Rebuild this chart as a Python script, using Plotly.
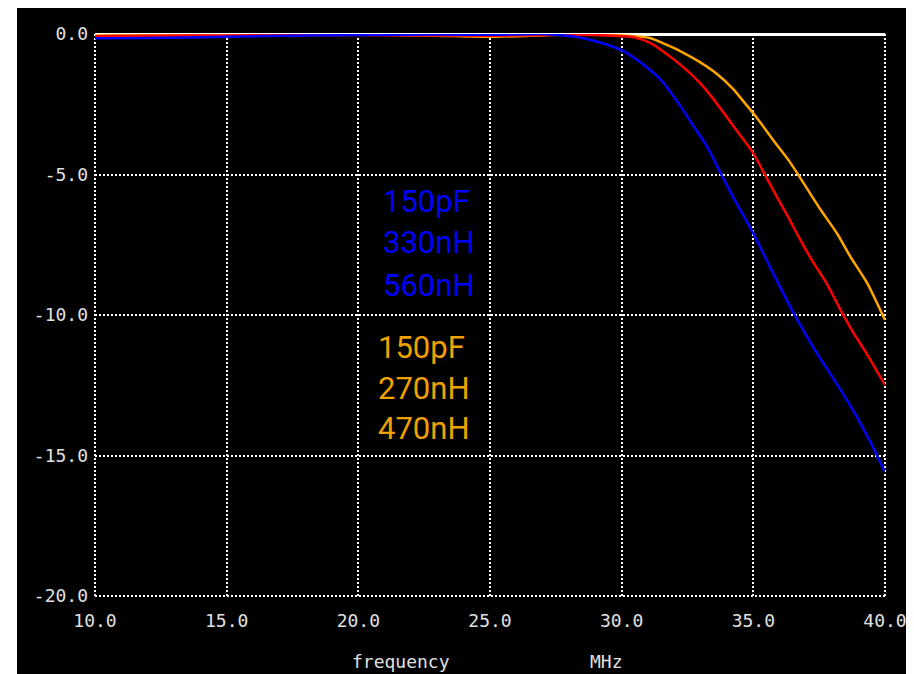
import plotly.graph_objects as go

# ---- data ----
blue_freq = [10.0, 12.0, 15.0, 18.0, 20.0, 23.0, 25.0, 27.0, 28.3, 29.18, 30.05, 30.81, 31.57, 32.22,
             32.71, 33.24, 33.73, 34.23, 34.99, 35.75, 36.51, 37.27, 38.03, 38.78, 39.54, 40.0]
blue_db = [-0.15, -0.14, -0.1, -0.05, -0.04, -0.02, -0.03, 0.0, -0.11, -0.30, -0.60, -1.08, -1.72, -2.55,
           -3.25, -4.00, -4.90, -5.80, -7.08, -8.51, -9.90, -11.14, -12.25, -13.38, -14.70, -15.59]

red_freq = [10.0, 12.0, 15.0, 20.0, 23.0, 25.0, 28.0, 29.5, 30.43, 31.08, 31.72, 32.33, 32.97, 33.47,
            34.38, 34.99, 35.37, 35.75, 36.28, 36.77, 37.27, 37.80, 38.29, 38.78, 39.32, 40.0]
red_db = [-0.08, -0.06, -0.05, -0.04, -0.05, -0.06, -0.03, -0.05, -0.11, -0.32, -0.72, -1.17, -1.74, -2.30,
          -3.45, -4.23, -4.88, -5.55, -6.44, -7.30, -8.12, -8.90, -9.78, -10.60, -11.40, -12.49]

orange_freq = [10.0, 12.0, 15.0, 20.0, 23.0, 25.0, 28.0, 30.0, 31.08, 31.72, 32.33, 32.97, 33.62, 34.23,
               34.61, 35.14, 35.75, 36.39, 36.89, 37.53, 38.18, 38.67, 39.32, 40.0]
orange_db = [-0.05, -0.03, -0.02, -0.02, -0.06, -0.1, -0.02, -0.05, -0.14, -0.39, -0.66, -1.00, -1.42, -1.95,
             -2.38, -2.99, -3.77, -4.56, -5.28, -6.22, -7.10, -7.90, -8.86, -10.18]

x_ticks = [10, 15, 20, 25, 30, 35, 40]
x_tick_labels = ["10.0", "15.0", "20.0", "25.0", "30.0", "35.0", "40.0"]
y_ticks = [0, -5, -10, -15, -20]
y_tick_labels = ["0.0", "-5.0", "-10.0", "-15.0", "-20.0"]

blue_labels = ["150pF", "330nH", "560nH"]
orange_labels = ["150pF", "270nH", "470nH"]
x_title = "frequency"
x_unit = "MHz"

BLUE = "#0000FF"
RED = "#FF0000"
ORANGE = "#FFA500"
ORANGE_TXT = "#F0A000"
TICK_COL = "#E0E0E0"
MONO = "DejaVu Sans Mono"

fig = go.Figure()
for xs, ys, col in [(orange_freq, orange_db, ORANGE), (red_freq, red_db, RED), (blue_freq, blue_db, BLUE)]:
    fig.add_trace(go.Scatter(x=xs, y=ys, mode="lines", line=dict(color=col, width=2.5, shape="spline", smoothing=0.6),
                             showlegend=False, hoverinfo="skip"))

# the page body adds an 8px offset, so the figure is 8px smaller and shifted
OFF = 8
W, H = 914 - OFF, 674 - OFF
L, T = 95 - OFF, 34 - OFF
pw, ph = 790, 562
R, B = W - L - pw, H - T - ph

def px2paper_x(px):  # screen pixel -> paper coordinate
    return (px - OFF - L) / pw

def px2paper_y(py):
    return (T + ph - (py - OFF)) / ph

grid_dash = "2px,2px"
frame = dict(color="white", width=2, dash=grid_dash)
shapes = [
    dict(type="rect", xref="paper", yref="paper",
         x0=px2paper_x(17), x1=px2paper_x(930), y0=px2paper_y(690), y1=px2paper_y(0),
         fillcolor="black", line=dict(width=0), layer="below"),
    dict(type="line", xref="paper", yref="paper", x0=0, x1=0, y0=0, y1=1, line=frame, layer="below"),
    dict(type="line", xref="paper", yref="paper", x0=1, x1=1, y0=0, y1=1, line=frame, layer="below"),
    dict(type="line", xref="paper", yref="paper", x0=0, x1=1, y0=0, y1=0, line=frame, layer="below"),
]

annotations = []
blue_y = [201, 243, 285]
orange_y = [347, 388, 428]
for txt, yy in zip(blue_labels, blue_y):
    annotations.append(dict(text=txt, xref="paper", yref="paper", x=px2paper_x(381), y=px2paper_y(yy),
                            xanchor="left", yanchor="middle", showarrow=False,
                            font=dict(family="Roboto", size=31, color=BLUE)))
for txt, yy in zip(orange_labels, orange_y):
    annotations.append(dict(text=txt, xref="paper", yref="paper", x=px2paper_x(376), y=px2paper_y(yy),
                            xanchor="left", yanchor="middle", showarrow=False,
                            font=dict(family="Roboto", size=31, color=ORANGE_TXT)))
annotations.append(dict(text=x_title, xref="paper", yref="paper", x=px2paper_x(401), y=px2paper_y(661),
                        xanchor="center", yanchor="middle", showarrow=False,
                        font=dict(family=MONO, size=18, color=TICK_COL)))
annotations.append(dict(text=x_unit, xref="paper", yref="paper", x=px2paper_x(606), y=px2paper_y(661),
                        xanchor="center", yanchor="middle", showarrow=False,
                        font=dict(family=MONO, size=18, color=TICK_COL)))

fig.update_layout(
    width=W, height=H,
    margin=dict(l=L, r=R, t=T, b=B, pad=0, autoexpand=False),
    paper_bgcolor="white", plot_bgcolor="black",
    shapes=shapes, annotations=annotations,
    xaxis=dict(range=[10, 40], tickvals=x_ticks, ticktext=x_tick_labels, automargin=False,
               showgrid=True, gridcolor="white", gridwidth=2, griddash=grid_dash,
               zeroline=False, showline=False, ticks="", ticklabelstandoff=12,
               tickfont=dict(family=MONO, size=18, color=TICK_COL)),
    yaxis=dict(range=[-20, 0], tickvals=y_ticks, ticktext=y_tick_labels, automargin=False,
               showgrid=True, gridcolor="white", gridwidth=2, griddash=grid_dash,
               zeroline=True, zerolinecolor="white", zerolinewidth=3,
               showline=False, ticks="", ticklabelstandoff=6,
               tickfont=dict(family=MONO, size=18, color=TICK_COL)),
)

fig.write_html("out.html")
